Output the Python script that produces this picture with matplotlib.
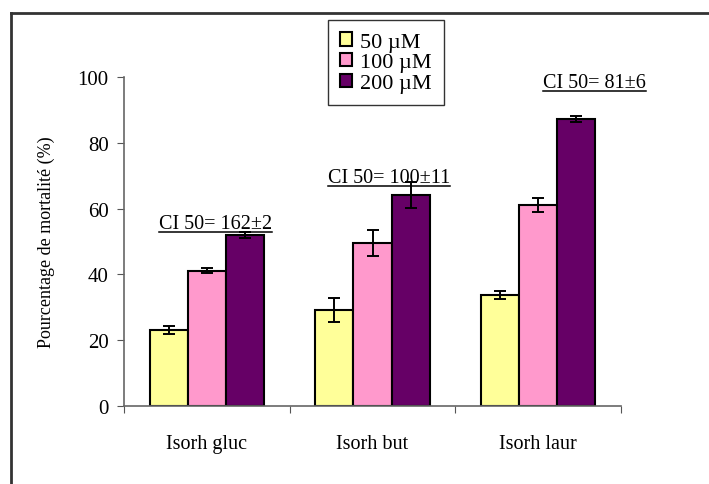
import matplotlib
matplotlib.use("Agg")
import matplotlib.pyplot as plt
import numpy as np
from matplotlib.lines import Line2D

plt.rcParams["font.family"] = ["Liberation Serif", "DejaVu Serif"]

categories = ["Isorh gluc", "Isorh but", "Isorh laur"]
series_labels = ["50 µM", "100 µM", "200 µM"]
colors = ["#FFFF99", "#FF99CC", "#660066"]

vals_50 = [23.0, 29.2, 33.8]
vals_100 = [41.1, 49.5, 61.2]
vals_200 = [52.0, 64.2, 87.3]
err_50 = [1.2, 3.6, 1.2]
err_100 = [0.8, 3.9, 2.1]
err_200 = [0.9, 4.0, 0.9]

ci_labels = ["CI 50= 162±2", "CI 50= 100±11", "CI 50= 81±6"]
ci_y = [52.5, 66.5, 95.5]
ci_x = [0.05, 0.1, 0.34]

fig = plt.figure(figsize=(7.09, 4.85), dpi=100)
ax = fig.add_axes([124 / 709, 1 - 407 / 485, 497 / 709, 329 / 485])

x = np.arange(len(categories))
width = 0.23
values = [vals_50, vals_100, vals_200]
errors = [err_50, err_100, err_200]
handles = []
for i, (v, e, c, lab) in enumerate(zip(values, errors, colors, series_labels)):
    b = ax.bar(x + (i - 1) * width, v, width, color=c, edgecolor="black",
               linewidth=1.5, label=lab, zorder=2)
    ax.errorbar(x + (i - 1) * width, v, yerr=e, fmt="none", ecolor="black",
                elinewidth=1.4, capsize=4.5, capthick=1.4, zorder=3)
    handles.append(b)

ax.set_xlim(-0.5, 2.5)
ax.set_ylim(0, 100)
ax.set_yticks(np.arange(0, 101, 20))
ax.set_xticks(np.arange(-0.5, 2.6, 1.0))
ax.set_xticklabels([])
ax.set_xticks(x, minor=True)
ax.set_xticklabels(categories, minor=True, fontsize=14.5)
ax.tick_params(axis="x", which="minor", length=0, pad=20)
ax.tick_params(axis="x", which="major", length=5, direction="out", color="#555555")
ax.tick_params(axis="y", length=5, direction="out", color="#555555", labelsize=15, pad=6)
ax.set_ylabel("Pourcentage de mortalité (%)", fontsize=13, labelpad=16)

for side in ["top", "right"]:
    ax.spines[side].set_visible(False)
for side in ["left", "bottom"]:
    ax.spines[side].set_color("#666666")
    ax.spines[side].set_linewidth(1.2)

# CI annotations with underline
texts = []
for xi, xo, yv, lab in zip(x, ci_x, ci_y, ci_labels):
    t = ax.text(xi + xo, yv, lab, ha="center", va="bottom", fontsize=14.5, zorder=1)
    texts.append(t)

fig.canvas.draw()
renderer = fig.canvas.get_renderer()
inv = fig.transFigure.inverted()
for t in texts:
    bb = t.get_window_extent(renderer)
    (x0, y0), (x1, y1) = inv.transform([(bb.x0, bb.y0), (bb.x1, bb.y1)])
    fig.add_artist(Line2D([x0, x1], [y0 + 0.002, y0 + 0.002], color="black", lw=1.1))

leg = ax.legend(handles=handles, loc="upper left", bbox_to_anchor=(328 / 709, 1 - 21 / 485),
                bbox_transform=fig.transFigure, fontsize=16, frameon=True, fancybox=False,
                edgecolor="black", handlelength=0.55, handleheight=0.55, handletextpad=0.35,
                labelspacing=0.05, borderpad=0.55, borderaxespad=0)
leg.get_frame().set_linewidth(1.0)

# outer frame (top and left edges visible)
fig.add_artist(Line2D([11 / 709, 1.0], [1 - 14 / 485, 1 - 14 / 485], color="#333333", lw=2))
fig.add_artist(Line2D([11 / 709, 11 / 709], [0.0, 1 - 14 / 485], color="#333333", lw=2))

fig.savefig("out.png", dpi=100)
